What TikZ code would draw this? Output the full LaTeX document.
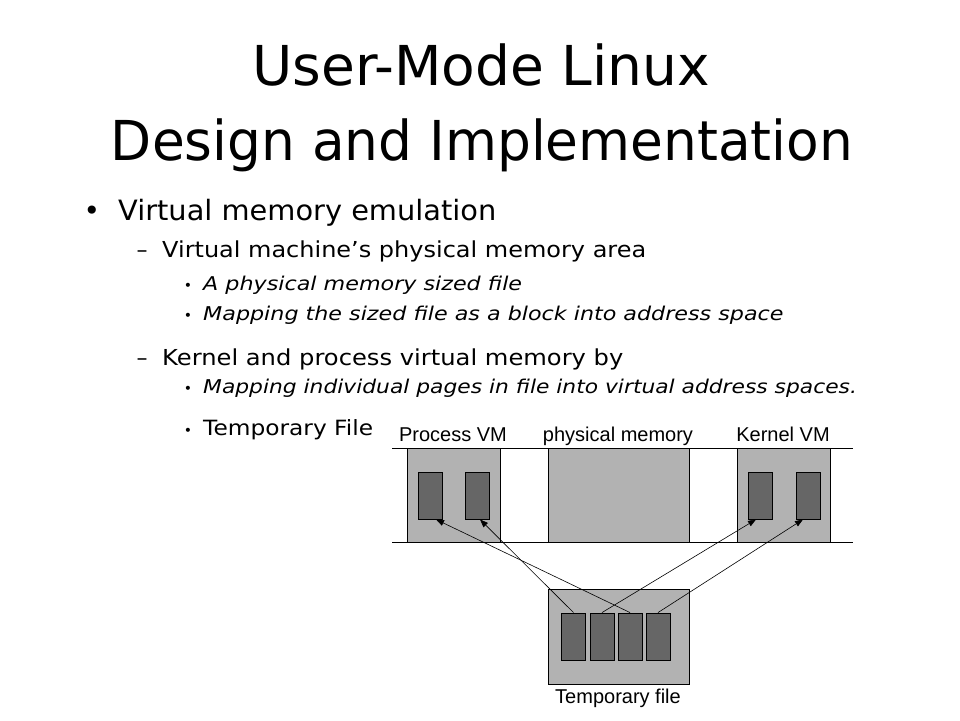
\documentclass[tikz,border=0pt]{standalone}
\usepackage{fontspec}
\usepackage{graphicx}
\setmainfont{DejaVu Sans}
\newfontfamily\arialf{Liberation Sans}
\usetikzlibrary{arrows.meta}
\definecolor{lightg}{HTML}{B2B2B2}
\definecolor{darkg}{HTML}{666666}
\newcommand\hstretch[2]{\scalebox{#1}[1]{#2}}
\tikzset{
  fs/.style={font=\fontsize{#1}{#1}\selectfont},
  fsi/.style={font=\fontsize{#1}{#1}\selectfont\itshape},
  txt/.style={anchor=base west, inner sep=0pt},
  lightbox/.style={draw=black, fill=lightg, line width=0.9pt, inner sep=0pt},
  pagebox/.style={draw=black, fill=darkg, line width=0.9pt, inner sep=0pt, minimum width=24, minimum height=47},
  lbl/.style={anchor=base, inner sep=0pt, font=\arialf\fontsize{20}{20}\selectfont},
  arr/.style={line width=0.6pt, -{Triangle[length=8pt,width=6pt]}},
  rule/.style={line width=0.9pt}
}
\begin{document}
\begin{tikzpicture}[x=1pt,y=-1pt]
\useasboundingbox[fill=white] (0,0) rectangle (960,720);
% title
\node[anchor=base, inner sep=0pt, fs=55] (t1) at (481,85) {User-Mode Linux};
\node[anchor=base, inner sep=0pt, fs=55] (t2) at (482,160) {\hstretch{0.97}{Design and Implementation}};
% bullets
\node[anchor=base, inner sep=0pt, fs=28] (b1) at (92,220) {•};
\node[txt, fs=28] (l1) at (118,220) {\hstretch{1.03}{Virtual memory emulation}};
\node[anchor=base, inner sep=0pt, fs=22] (d1) at (142,257) {–};
\node[txt, fs=22] (l2) at (162,257) {\hstretch{1.09}{Virtual machine’s physical memory area}};
\node[anchor=base, inner sep=0pt, fs=14] (b2) at (188,290) {•};
\node[txt, fsi=19] (l3) at (203,290) {\hstretch{1.17}{A physical memory sized file}};
\node[anchor=base, inner sep=0pt, fs=14] (b3) at (188,320) {•};
\node[txt, fsi=19] (l4) at (203,320) {\hstretch{1.17}{Mapping the sized file as a block into address space}};
\node[anchor=base, inner sep=0pt, fs=22] (d2) at (142,365) {–};
\node[txt, fs=22] (l5) at (162,365) {\hstretch{1.1}{Kernel and process virtual memory by}};
\node[anchor=base, inner sep=0pt, fs=14] (b4) at (188,393) {•};
\node[txt, fsi=19] (l6) at (203,393) {\hstretch{1.147}{Mapping individual pages in file into virtual address spaces.}};
\node[anchor=base, inner sep=0pt, fs=14] (b5) at (188,435) {•};
\node[txt, fs=21] (l7) at (203,435) {\hstretch{1.11}{Temporary File}};
% diagram
\coordinate (r1a) at (392,448);
\coordinate (r1b) at (853,448);
\coordinate (r2a) at (392,542);
\coordinate (r2b) at (853,542);
\node[lightbox, minimum width=93, minimum height=94] (pvm) at (453.5,495) {};
\node[lightbox, minimum width=141, minimum height=94] (phys) at (618.5,495) {};
\node[lightbox, minimum width=93, minimum height=94] (kvm) at (783.5,495) {};
\draw[rule] (r1a) -- (r1b);
\draw[rule] (r2a) -- (r2b);
\node[pagebox] (p1) at (430,495.5) {};
\node[pagebox] (p2) at (477,495.5) {};
\node[pagebox] (k1) at (760,495.5) {};
\node[pagebox] (k2) at (808,495.5) {};
\node[lbl] (lp) at (453,441) {Process VM};
\node[lbl] (lm) at (618,441) {physical memory};
\node[lbl] (lk) at (783,441) {Kernel VM};
% temporary file
\node[lightbox, minimum width=141, minimum height=95] (tmp) at (618.5,636.5) {};
\node[pagebox] (q1) at (573.5,636.5) {};
\node[pagebox] (q2) at (602,636.5) {};
\node[pagebox] (q3) at (630,636.5) {};
\node[pagebox] (q4) at (658,636.5) {};
\node[lbl] (lt) at (618,703) {Temporary file};
% arrows
\draw[arr] (q1.north) -- ([xshift=3pt]p2.south);
\draw[arr] (q3.north) -- ([xshift=6pt]p1.south);
\draw[arr] (q2.north) -- ([xshift=-4pt]k1.south);
\draw[arr] (q4.north) -- ([xshift=-5pt]k2.south);
\end{tikzpicture}
\end{document}
